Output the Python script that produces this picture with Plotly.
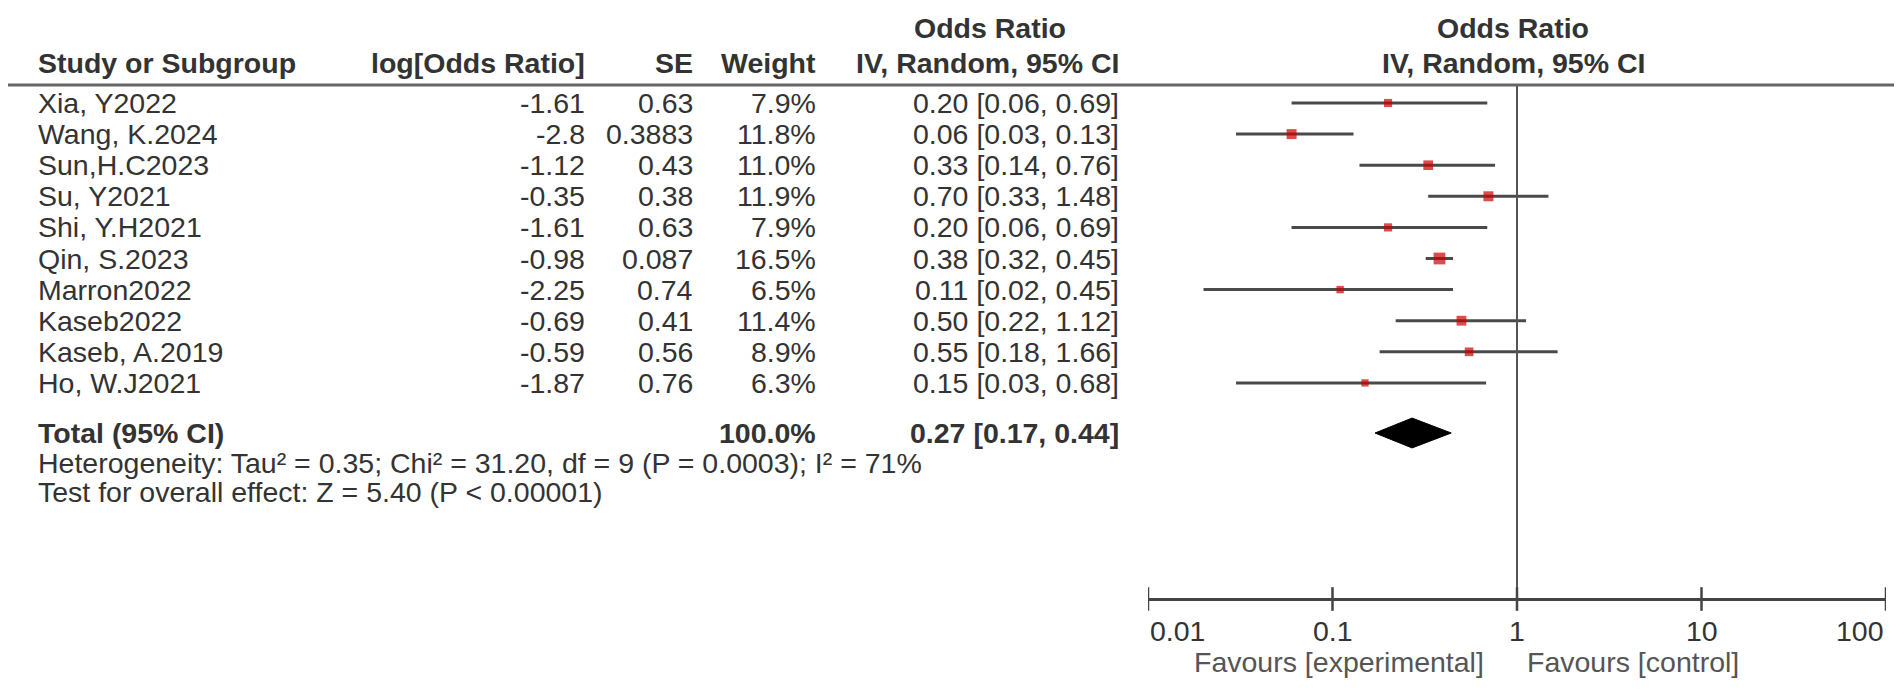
import numpy as np
import plotly.graph_objects as go

# ------------------------------------------------------------------
# data
# ------------------------------------------------------------------
studies = ["Xia, Y2022", "Wang, K.2024", "Sun,H.C2023", "Su, Y2021", "Shi, Y.H2021",
           "Qin, S.2023", "Marron2022", "Kaseb2022", "Kaseb, A.2019", "Ho, W.J2021"]
log_or = ["-1.61", "-2.8", "-1.12", "-0.35", "-1.61", "-0.98", "-2.25", "-0.69", "-0.59", "-1.87"]
se = ["0.63", "0.3883", "0.43", "0.38", "0.63", "0.087", "0.74", "0.41", "0.56", "0.76"]
weight = [7.9, 11.8, 11.0, 11.9, 7.9, 16.5, 6.5, 11.4, 8.9, 6.3]
odds = [0.20, 0.06, 0.33, 0.70, 0.20, 0.38, 0.11, 0.50, 0.55, 0.15]
ci_low = [0.06, 0.03, 0.14, 0.33, 0.06, 0.32, 0.02, 0.22, 0.18, 0.03]
ci_high = [0.69, 0.13, 0.76, 1.48, 0.69, 0.45, 0.45, 1.12, 1.66, 0.68]

total_or, total_low, total_high = 0.27, 0.17, 0.44
total_weight = "100.0%"
heterogeneity = "Heterogeneity: Tau² = 0.35; Chi² = 31.20, df = 9 (P = 0.0003); I² = 71%"
overall = "Test for overall effect: Z = 5.40 (P < 0.00001)"

tick_vals = [0.01, 0.1, 1, 10, 100]
tick_text = ["0.01", "0.1", "1", "10", "100"]

# ------------------------------------------------------------------
# page geometry (pixels) -> row units on the y axis
# ------------------------------------------------------------------
W, H = 1902, 689
ROW0, STEP = 95, 31.1


def row(py):
    return (py - ROW0) / STEP


def px(x):
    return x / W


TEXT = "#333333"
LINE = "#4a4a4a"
RED = "#cc0000"
FONT = "Liberation Sans, Arial, sans-serif"
FS = 28.5

r_total = row(425)
r_het = row(455)
r_test = row(484)
r_axis = row(591)
r_head1 = row(20)
r_head2 = row(55)
r_rule = row(77)
r_tick = row(623)
r_fav = row(654)

fig = go.Figure()

# CI whiskers
xs, ys = [], []
for i in range(len(studies)):
    xs += [ci_low[i], ci_high[i], None]
    ys += [i, i, None]
fig.add_trace(go.Scatter(x=xs, y=ys, mode="lines", line=dict(color=LINE, width=3),
                         hoverinfo="skip", showlegend=False))

# vertical line of no effect
fig.add_trace(go.Scatter(x=[1, 1], y=[r_rule, r_axis], mode="lines",
                         line=dict(color="#555555", width=2), hoverinfo="skip", showlegend=False))

# study estimates, square area ~ weight
fig.add_trace(go.Scatter(
    x=odds, y=list(range(len(studies))), mode="markers",
    marker=dict(symbol="square", color=RED, size=[2.9 * np.sqrt(w) for w in weight],
                line=dict(width=0)),
    text=studies, hovertemplate="%{text}: %{x}<extra></extra>", showlegend=False))

# pooled diamond
dh = 0.48
fig.add_trace(go.Scatter(
    x=[total_low, total_or, total_high, total_or, total_low],
    y=[r_total, r_total - dh, r_total, r_total + dh, r_total],
    mode="lines", fill="toself", fillcolor="black", line=dict(color="black", width=1),
    hoverinfo="skip", showlegend=False))

# tick marks crossing the axis line
tx, ty = [], []
for t in tick_vals:
    tx += [t, t, None]
    ty += [r_axis - 0.38, r_axis + 0.38, None]
fig.add_trace(go.Scatter(x=tx, y=ty, mode="lines", line=dict(color="#444444", width=2.5),
                         hoverinfo="skip", showlegend=False))

# ------------------------------------------------------------------
# table text
# ------------------------------------------------------------------
ann = []


def txt(x, y, s, anchor="left", bold=False, color=TEXT, xref="paper"):
    ann.append(dict(x=x, y=y, xref=xref, yref="y", text=f"<b>{s}</b>" if bold else s,
                    showarrow=False, xanchor=anchor, yanchor="middle",
                    font=dict(family=FONT, size=FS, color=color)))


X_NAME, X_LOG, X_SE, X_W, X_CI = px(28), px(579), px(687), px(810), px(1113)
X_HEAD = px(982)
X_RIGHT = px(1505)

txt(X_HEAD, r_head1, "Odds Ratio", "center", True)
txt(X_RIGHT, r_head1, "Odds Ratio", "center", True)
txt(X_NAME, r_head2, "Study or Subgroup", "left", True)
txt(X_LOG, r_head2, "log[Odds Ratio]", "right", True)
txt(X_SE, r_head2, "SE", "right", True)
txt(X_W, r_head2, "Weight", "right", True)
txt(X_CI, r_head2, "IV, Random, 95% CI", "right", True)
txt(X_RIGHT, r_head2, "IV, Random, 95% CI", "center", True)

for i, s in enumerate(studies):
    txt(X_NAME, i, s)
    txt(X_LOG, i, log_or[i], "right")
    txt(X_SE, i, se[i], "right")
    txt(X_W, i, f"{weight[i]:.1f}%", "right")
    txt(X_CI, i, f"{odds[i]:.2f} [{ci_low[i]:.2f}, {ci_high[i]:.2f}]", "right")

txt(X_NAME, r_total, "Total (95% CI)", "left", True)
txt(X_W, r_total, total_weight, "right", True)
txt(X_CI, r_total, f"{total_or:.2f} [{total_low:.2f}, {total_high:.2f}]", "right", True)
txt(X_NAME, r_het, heterogeneity)
txt(X_NAME, r_test, overall)

# axis tick labels: end labels sit inside the axis span
for k, (t, lab) in enumerate(zip(tick_vals, tick_text)):
    anchor = "left" if k == 0 else ("right" if k == len(tick_vals) - 1 else "center")
    txt(np.log10(t), r_tick, lab, anchor, xref="x")

txt(px(1478), r_fav, "Favours [experimental]", "right", color="#555555")
txt(px(1517), r_fav, "Favours [control]", "left", color="#555555")

fig.update_layout(
    width=W, height=H,
    margin=dict(l=0, r=0, t=0, b=0),
    paper_bgcolor="white", plot_bgcolor="white",
    annotations=ann,
    shapes=[dict(type="line", xref="paper", yref="y", x0=0, x1=1, y0=r_rule, y1=r_rule,
                 line=dict(color="#666666", width=3))],
    xaxis=dict(type="log", range=[-2, 2], domain=[px(1140), px(1878)],
               anchor="free", position=1 - 591 / H,
               showline=True, linecolor="#444444", linewidth=2.5,
               ticks="", showticklabels=False,
               showgrid=False, zeroline=False),
    yaxis=dict(range=[row(H), row(0)], domain=[0, 1], visible=False,
               showgrid=False, zeroline=False),
    hovermode="closest",
)

fig.write_html("out.html")
